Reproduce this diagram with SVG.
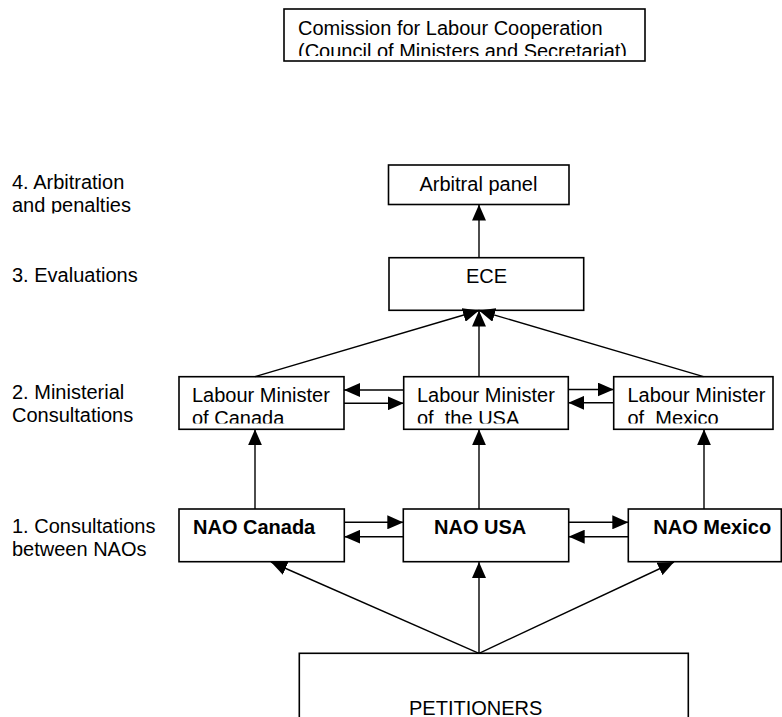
<svg xmlns="http://www.w3.org/2000/svg" width="782" height="717" viewBox="0 0 782 717">
<style>
.box{fill:#fff;stroke:#000;stroke-width:1.6}
.t{font-family:"Liberation Sans",Arial,Helvetica,sans-serif;font-size:20px;fill:#000}
.b{font-weight:bold}
.ln{stroke:#000;stroke-width:1.4;fill:none}
.ar{marker-end:url(#ah)}
</style>
<defs>
<marker id="ah" markerUnits="userSpaceOnUse" viewBox="0 0 16 14" refX="16" refY="7" markerWidth="16" markerHeight="14" orient="auto">
<path d="M0,0 L16,7 L0,14 z" fill="#000"/>
</marker>
<clipPath id="cTop"><rect x="284" y="9" width="361" height="47"/></clipPath>
<clipPath id="cL4"><rect x="0" y="160" width="170" height="53.5"/></clipPath>
<clipPath id="cMin"><rect x="0" y="377" width="782" height="46.5"/></clipPath>
<clipPath id="cPet"><rect x="300" y="654" width="388" height="63"/></clipPath>
</defs>

<g id="labels">
<g clip-path="url(#cL4)">
<text class="t" x="12" y="189">4. Arbitration</text>
<text class="t" x="12" y="212">and penalties</text>
</g>
<text class="t" x="12" y="282">3. Evaluations</text>
<text class="t" x="12" y="399">2. Ministerial</text>
<text class="t" x="12" y="422">Consultations</text>
<text class="t" x="12" y="533">1. Consultations</text>
<text class="t" x="12" y="556">between NAOs</text>
</g>

<g id="commission">
<rect class="box" x="284" y="9" width="361" height="52"/>
<g clip-path="url(#cTop)">
<text class="t" x="298" y="35">Comission for Labour Cooperation</text>
<text class="t" x="298" y="58">(Council of Ministers and Secretariat)</text>
</g>
</g>

<g id="arbitral">
<rect class="box" x="388.5" y="165" width="180.5" height="39.5"/>
<text class="t" x="419.5" y="191">Arbitral panel</text>
</g>

<g id="ece">
<rect class="box" x="389" y="257.7" width="194.7" height="52.6"/>
<text class="t" x="486.5" y="283" text-anchor="middle">ECE</text>
</g>

<g id="min-canada">
<rect class="box" x="179" y="376.7" width="165" height="52.6"/>
<g clip-path="url(#cMin)">
<text class="t" x="192" y="402">Labour Minister</text>
<text class="t" x="192" y="425">of Canada</text>
</g>
</g>

<g id="min-usa">
<rect class="box" x="403.7" y="376.7" width="164.6" height="52.6"/>
<g clip-path="url(#cMin)">
<text class="t" x="417" y="402">Labour Minister</text>
<text class="t" x="417" y="425" xml:space="preserve">of  the USA</text>
</g>
</g>

<g id="min-mexico">
<rect class="box" x="613.7" y="376.7" width="159.3" height="52.6"/>
<g clip-path="url(#cMin)">
<text class="t" x="627.5" y="402">Labour Minister</text>
<text class="t" x="627.5" y="425" xml:space="preserve">of  Mexico</text>
</g>
</g>

<g id="nao-canada">
<rect class="box" x="179" y="509" width="165.3" height="52.7"/>
<text class="t b" x="193" y="534">NAO Canada</text>
</g>

<g id="nao-usa">
<rect class="box" x="403.3" y="509" width="165.4" height="52.7"/>
<text class="t b" x="434" y="534">NAO USA</text>
</g>

<g id="nao-mexico">
<rect class="box" x="628.3" y="509" width="153" height="52.7"/>
<text class="t b" x="653.3" y="534">NAO Mexico</text>
</g>

<g id="petitioners">
<rect class="box" x="299.3" y="653.3" width="389" height="70"/>
<g clip-path="url(#cPet)">
<text class="t" x="409" y="715">PETITIONERS</text>
</g>
</g>

<g id="connectors">
<line class="ln ar" x1="479" y1="257.7" x2="479" y2="204.5"/>
<line class="ln ar" x1="255" y1="376.7" x2="479" y2="310.5"/>
<line class="ln ar" x1="479" y1="376.7" x2="479" y2="310.5"/>
<line class="ln ar" x1="703.5" y1="376.7" x2="479" y2="310.5"/>
<line class="ln ar" x1="403.7" y1="390" x2="344" y2="390"/>
<line class="ln ar" x1="344" y1="403.3" x2="403.7" y2="403.3"/>
<line class="ln ar" x1="568.3" y1="389.5" x2="613.7" y2="389.5"/>
<line class="ln ar" x1="613.7" y1="402.8" x2="568.3" y2="402.8"/>
<line class="ln ar" x1="255" y1="509" x2="255" y2="429.3"/>
<line class="ln ar" x1="479" y1="509" x2="479" y2="429.3"/>
<line class="ln ar" x1="704" y1="509" x2="704" y2="429.3"/>
<line class="ln ar" x1="344.3" y1="522.3" x2="403.3" y2="522.3"/>
<line class="ln ar" x1="403.3" y1="536.7" x2="344.3" y2="536.7"/>
<line class="ln ar" x1="568.7" y1="522.3" x2="628.3" y2="522.3"/>
<line class="ln ar" x1="628.3" y1="536.7" x2="568.7" y2="536.7"/>
<line class="ln ar" x1="479" y1="653.3" x2="271" y2="562"/>
<line class="ln ar" x1="479" y1="653.3" x2="479" y2="562"/>
<line class="ln ar" x1="479" y1="653.3" x2="674" y2="562"/>
</g>
</svg>
